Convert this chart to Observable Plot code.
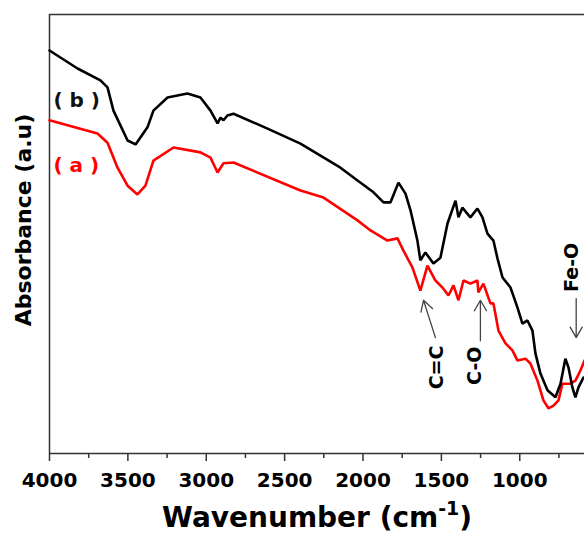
<!DOCTYPE html>
<html>
<head>
<meta charset="utf-8">
<script src="https://cdn.jsdelivr.net/npm/d3@7"></script>
<script src="https://cdn.jsdelivr.net/npm/@observablehq/plot@0.6"></script>
<style>
  html, body { margin: 0; padding: 0; background: #fff; }
  #chart { width: 584px; height: 533px; overflow: hidden; }
</style>
</head>
<body>
<div id="chart"></div>
<script>
// Sample (b) – black spectrum: wavenumber (cm-1) and absorbance (a.u.)
const wnB = [4000, 3821, 3675, 3630, 3592, 3502, 3451, 3375, 3337, 3247, 3120, 3037, 2973, 2928, 2909, 2890, 2865, 2826, 2609, 2399, 2144, 2035, 1933, 1869, 1825, 1774, 1729, 1697, 1653, 1634, 1602, 1551, 1506, 1461, 1410, 1391, 1366, 1315, 1270, 1238, 1206, 1168, 1142, 1110, 1059, 1015, 983, 951, 919, 900, 868, 823, 772, 740, 709, 689, 664, 645, 626, 594];
const absB = [91.8, 87.7, 85.0, 83.4, 78.1, 71.3, 70.4, 74.3, 78.1, 81.1, 82.0, 81.1, 78.1, 75.2, 76.5, 75.9, 77.0, 77.4, 74.0, 70.6, 65.1, 62.2, 59.5, 57.2, 57.2, 61.7, 59.2, 55.4, 48.5, 44.0, 45.8, 43.3, 44.6, 52.4, 57.6, 53.8, 56.0, 53.8, 55.8, 53.8, 50.1, 48.5, 44.4, 40.1, 37.8, 33.3, 29.6, 30.3, 28.0, 22.8, 18.2, 14.4, 12.8, 15.9, 21.6, 19.6, 15.0, 12.8, 15.0, 17.3];

// Sample (a) – red spectrum
const wnA = [4000, 3694, 3630, 3566, 3502, 3439, 3388, 3337, 3209, 3037, 2973, 2928, 2890, 2826, 2399, 2252, 2035, 1952, 1844, 1780, 1742, 1685, 1634, 1589, 1538, 1493, 1455, 1423, 1391, 1359, 1315, 1270, 1264, 1232, 1187, 1168, 1136, 1091, 1047, 1015, 964, 932, 887, 849, 817, 785, 753, 728, 677, 645, 613, 587];
const absA = [75.9, 72.9, 70.8, 65.1, 61.0, 59.0, 61.0, 66.7, 69.7, 68.6, 67.4, 64.0, 66.1, 66.3, 59.9, 58.3, 53.1, 50.8, 48.5, 49.0, 46.2, 42.4, 37.1, 42.8, 39.4, 37.8, 36.0, 38.3, 34.9, 39.4, 38.7, 39.4, 36.7, 38.7, 34.2, 34.2, 28.0, 25.1, 23.5, 21.2, 21.6, 20.5, 16.6, 12.1, 10.3, 10.9, 12.1, 15.9, 15.9, 16.6, 18.9, 21.2];

// Axis ticks
const majorTicks = [4000, 3500, 3000, 2500, 2000, 1500, 1000];
const minorTicks = [3750, 3250, 2750, 2250, 1750, 1250, 750];

// Series labels
const seriesLabels = ["( b )", "( a )"];
const seriesLabelWn = [3975, 3975];
const seriesLabelAbs = [80.4, 65.6];
const seriesColors = ["#111", "#ff0000"];

// Peak annotations
const annLabels = ["C=C", "C-O", "Fe-O"];
const annTextWn = [1531, 1283, 670];
const annTextAbs = [19.6, 20.0, 42.4];
const arrowFromWn = [1538, 1251, 640];
const arrowFromAbs = [26.4, 25.7, 35.3];
const arrowToWn = [1614, 1251, 640];
const arrowToAbs = [34.9, 34.9, 26.4];

const specB = wnB.map((w, i) => ({w, a: absB[i]}));
const specA = wnA.map((w, i) => ({w, a: absA[i]}));
const labels = seriesLabels.map((t, i) => ({t, w: seriesLabelWn[i], a: seriesLabelAbs[i], c: seriesColors[i]}));
const anns = annLabels.map((t, i) => ({t, w: annTextWn[i], a: annTextAbs[i], w1: arrowFromWn[i], a1: arrowFromAbs[i], w2: arrowToWn[i], a2: arrowToAbs[i]}));

const chart = Plot.plot({
  width: 584,
  height: 533,
  marginLeft: 49,
  marginRight: 0,
  marginTop: 14,
  marginBottom: 80,
  style: {fontFamily: "DejaVu Sans", fontWeight: "bold", fontSize: "20px", color: "#000", background: "#fff"},
  x: {domain: [4000, 587], axis: null},
  y: {domain: [0, 100], axis: null},
  marks: [
    Plot.axisX(majorTicks, {tickSize: 8, tickPadding: 11, tickFormat: d => String(d), label: null, stroke: "#333", strokeWidth: 1.5, fill: "#000", fontSize: 20, fontWeight: "bold"}),
    Plot.axisX(minorTicks, {tickSize: 5, tickFormat: () => "", label: null, stroke: "#333", strokeWidth: 1.5}),
    Plot.ruleX([4000], {stroke: "#333", strokeWidth: 1.5}),
    Plot.ruleY([0, 100], {stroke: "#333", strokeWidth: 1.5}),
    Plot.line(specA, {x: "w", y: "a", stroke: "#ff0000", strokeWidth: 2.6, strokeLinejoin: "miter"}),
    Plot.line(specB, {x: "w", y: "a", stroke: "#000", strokeWidth: 2.6, strokeLinejoin: "miter"}),
    Plot.text(labels, {x: "w", y: "a", text: "t", fill: "c", textAnchor: "start", fontSize: 20, fontWeight: "bold"}),
    Plot.arrow(anns, {x1: "w1", y1: "a1", x2: "w2", y2: "a2", stroke: "#444", strokeWidth: 1.3, headLength: 14, headAngle: 60}),
    Plot.text(anns, {x: "w", y: "a", text: "t", rotate: -90, fill: "#000", fontSize: 19, fontWeight: "bold"})
  ]
});

document.getElementById("chart").appendChild(chart);

const svg = d3.select(chart);
const xt = svg.append("text")
  .attr("x", 162).attr("y", 527)
  .attr("text-anchor", "start")
  .attr("font-family", "DejaVu Sans").attr("font-weight", "bold").attr("font-size", 28)
  .attr("fill", "#000");
xt.append("tspan").text("Wavenumber (cm");
xt.append("tspan").attr("font-size", 19).attr("dy", -12).text("-1");
xt.append("tspan").attr("dy", 12).text(")");

svg.append("text")
  .attr("transform", "translate(31,220) rotate(-90)")
  .attr("text-anchor", "middle")
  .attr("font-family", "DejaVu Sans").attr("font-weight", "bold").attr("font-size", 22)
  .attr("fill", "#000")
  .text("Absorbance (a.u)");
</script>
</body>
</html>
